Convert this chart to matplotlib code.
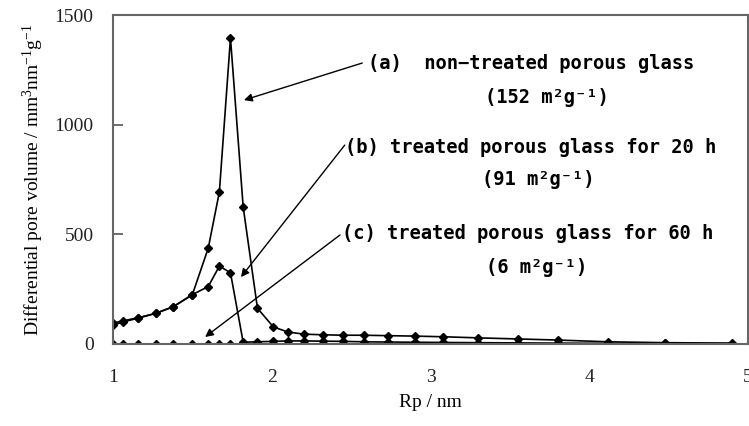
import matplotlib
matplotlib.use('Agg')
from matplotlib import pyplot as plt

plt.rcParams['mathtext.fontset'] = 'custom'
plt.rcParams['mathtext.rm'] = 'Liberation Serif'
plt.rcParams['mathtext.it'] = 'Liberation Serif'

# pore radius grid (nm) shared by the three samples
rp = [1.00, 1.06, 1.16, 1.27, 1.38, 1.50, 1.60, 1.67, 1.74, 1.82, 1.91, 2.01, 2.10,
      2.20, 2.32, 2.45, 2.58, 2.73, 2.90, 3.08, 3.30, 3.55, 3.80, 4.12, 4.48, 4.90]
# differential pore volume, mm3 nm-1 g-1
dv_a = [85, 100, 118, 140, 170, 225, 437, 693, 1395, 625, 163, 78, 55,
        45, 42, 40, 40, 38, 36, 33, 28, 23, 18, 10, 6, 4]
dv_b = [95, 105, 120, 140, 170, 225, 262, 355, 325, 8, 10, 12, 14,
        14, 13, 12, 10, 9, 8, 7, 6, 5, 4, 3, 3, 2]
dv_c = [2, 2, 2, 2, 2, 2, 2, 2, 2, 2, 2, 2, 2,
        2, 2, 2, 2, 2, 2, 2, 2, 2, 2, 2, 2, 2]

labels = ['(a)  non\u2212treated porous glass',
          '(b) treated porous glass for 20 h',
          '(c) treated porous glass for 60 h']
areas = ['(152 m\u00b2g\u207b\u00b9)', '(91 m\u00b2g\u207b\u00b9)', '(6 m\u00b2g\u207b\u00b9)']

fig = plt.figure(figsize=(7.49, 4.26), dpi=100, facecolor='white')
ax = fig.add_axes([113 / 749, 82 / 426, 635 / 749, 329 / 426])

for dv in (dv_a, dv_b, dv_c):
    ax.plot(rp, dv, color='black', lw=1.2, marker='D', markersize=3.8)

ax.set_xlim(1, 5)
ax.set_ylim(0, 1500)
ax.set_xticks([1, 2, 3, 4, 5])
ax.set_yticks([0, 500, 1000, 1500])
ax.tick_params(axis='y', direction='in', length=7, width=1.2, color='#555555', pad=14)
ax.tick_params(axis='x', length=0, pad=18)
for lab in ax.get_xticklabels() + ax.get_yticklabels():
    lab.set_fontfamily('Liberation Serif')
    lab.set_fontsize(14)
    lab.set_color('#222222')
for sp in ax.spines.values():
    sp.set_color('#666666')
    sp.set_linewidth(1.5)

ax.set_xlabel('Rp / nm', fontfamily='Liberation Serif', fontsize=14, labelpad=6)
ax.set_ylabel('Differential pore volume / mm$^{3}$nm$^{-1}$g$^{-1}$',
              fontfamily='Liberation Serif', fontsize=14, labelpad=6)

fam = ['DejaVu Sans Mono', 'DejaVu Sans']
fs = 13.5
arrow = dict(arrowstyle='-|>', color='black', lw=1.0, mutation_scale=12, shrinkA=0, shrinkB=0)

# (a)
ax.annotate('', xy=(1.825, 1112), xytext=(2.57, 1281), arrowprops=arrow)
ax.text(2.606, 1281, labels[0], family=fam, fontsize=fs, weight='bold', ha='left', va='center')
ax.text(3.734, 1126, areas[0], family=fam, fontsize=fs, weight='bold', ha='center', va='center')
# (b)
ax.annotate('', xy=(1.806, 305), xytext=(2.46, 907), arrowprops=arrow)
ax.text(2.461, 898, labels[1], family=fam, fontsize=fs, weight='bold', ha='left', va='center')
ax.text(3.677, 748, areas[1], family=fam, fontsize=fs, weight='bold', ha='center', va='center')
# (c)
ax.annotate('', xy=(1.58, 32), xytext=(2.43, 497), arrowprops=arrow)
ax.text(2.443, 506, labels[2], family=fam, fontsize=fs, weight='bold', ha='left', va='center')
ax.text(3.671, 351, areas[2], family=fam, fontsize=fs, weight='bold', ha='center', va='center')

fig.savefig('out.png', dpi=100)
